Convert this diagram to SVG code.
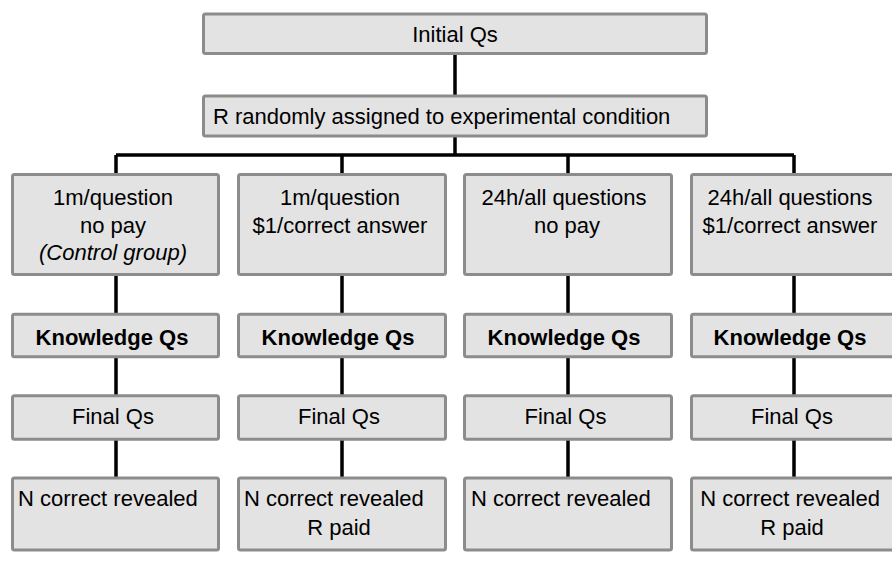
<svg xmlns="http://www.w3.org/2000/svg" width="892" height="580" viewBox="0 0 892 580">
<style>
.box{fill:#e3e3e3;stroke:#8c8c8c;stroke-width:3}
.t{font-family:"Liberation Sans",Arial,Helvetica,sans-serif;font-size:22px;fill:#000}
.c{text-anchor:middle}
.b{font-weight:bold}
.i{font-style:italic}
.ln{stroke:#000;stroke-width:3.5;fill:none}
</style>
<rect width="892" height="580" fill="#fff"/>
<g id="connectors">
<path class="ln" d="M455 55V95M455 137V155M116 155H794M116 155V174M342 155V174M568 155V174M794 155V174"/>
<path class="ln" d="M116 276V313M342 276V313M568 276V313M794 276V313"/>
<path class="ln" d="M116 358V395M342 358V395M568 358V395M794 358V395"/>
<path class="ln" d="M116 440V477M342 440V477M568 440V477M794 440V477"/>
</g>
<g id="initial">
<rect class="box" x="203.5" y="14" width="503" height="39.5" rx="2"/>
<text class="t c" x="455" y="42">Initial Qs</text>
</g>
<g id="assign">
<rect class="box" x="203.5" y="96" width="503" height="40" rx="2"/>
<text class="t" x="213" y="124">R randomly assigned to experimental condition</text>
</g>
<g id="cond1">
<rect class="box" x="12.5" y="174.5" width="206" height="100" rx="2"/>
<text class="t c" x="113" y="205">1m/question</text>
<text class="t c" x="113" y="232.5">no pay</text>
<text class="t c i" x="113" y="260">(Control group)</text>
</g>
<g id="cond2">
<rect class="box" x="238.5" y="174.5" width="207" height="100" rx="2"/>
<text class="t c" x="340" y="205">1m/question</text>
<text class="t c" x="340" y="232.5">$1/correct answer</text>
</g>
<g id="cond3">
<rect class="box" x="464.5" y="174.5" width="207" height="100" rx="2"/>
<text class="t c" x="564" y="205">24h/all questions</text>
<text class="t c" x="567" y="232.5">no pay</text>
</g>
<g id="cond4">
<rect class="box" x="691.5" y="174.5" width="207" height="100" rx="2"/>
<text class="t c" x="790" y="205">24h/all questions</text>
<text class="t c" x="790" y="232.5">$1/correct answer</text>
</g>
<g id="know1">
<rect class="box" x="12.5" y="314.2" width="206" height="42.6" rx="2"/>
<text class="t c b" x="112" y="345">Knowledge Qs</text>
</g>
<g id="know2">
<rect class="box" x="238.5" y="314.2" width="207" height="42.6" rx="2"/>
<text class="t c b" x="338" y="345">Knowledge Qs</text>
</g>
<g id="know3">
<rect class="box" x="464.5" y="314.2" width="207" height="42.6" rx="2"/>
<text class="t c b" x="564" y="345">Knowledge Qs</text>
</g>
<g id="know4">
<rect class="box" x="691.5" y="314.2" width="207" height="42.6" rx="2"/>
<text class="t c b" x="790" y="345">Knowledge Qs</text>
</g>
<g id="final1">
<rect class="box" x="12.5" y="395.8" width="206" height="43.4" rx="2"/>
<text class="t c" x="113" y="424">Final Qs</text>
</g>
<g id="final2">
<rect class="box" x="238.5" y="395.8" width="207" height="43.4" rx="2"/>
<text class="t c" x="339" y="424">Final Qs</text>
</g>
<g id="final3">
<rect class="box" x="464.5" y="395.8" width="207" height="43.4" rx="2"/>
<text class="t c" x="565.5" y="424">Final Qs</text>
</g>
<g id="final4">
<rect class="box" x="691.5" y="395.8" width="207" height="43.4" rx="2"/>
<text class="t c" x="792" y="424">Final Qs</text>
</g>
<g id="reveal1">
<rect class="box" x="12.5" y="478" width="206" height="72" rx="2"/>
<text class="t" x="18" y="506">N correct revealed</text>
</g>
<g id="reveal2">
<rect class="box" x="238.5" y="478" width="207" height="72" rx="2"/>
<text class="t" x="244" y="506">N correct revealed</text>
<text class="t c" x="339" y="535">R paid</text>
</g>
<g id="reveal3">
<rect class="box" x="464.5" y="478" width="207" height="72" rx="2"/>
<text class="t" x="471" y="506">N correct revealed</text>
</g>
<g id="reveal4">
<rect class="box" x="691.5" y="478" width="207" height="72" rx="2"/>
<text class="t c" x="790" y="506">N correct revealed</text>
<text class="t c" x="792" y="535">R paid</text>
</g>
</svg>
